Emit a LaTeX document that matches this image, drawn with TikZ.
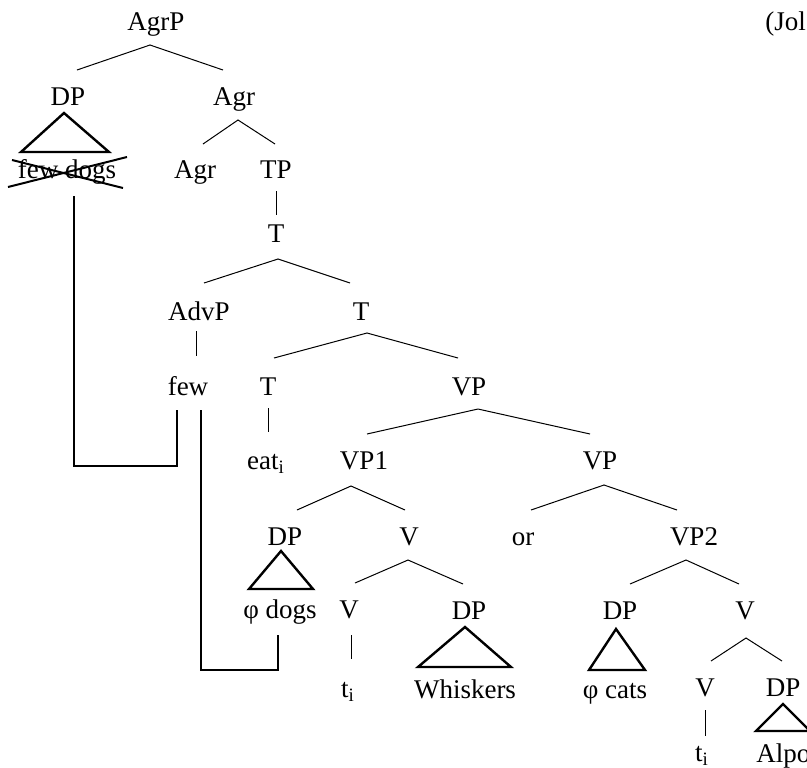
\documentclass[tikz,border=0pt]{standalone}
\usepackage{fontspec}
\setmainfont{Liberation Serif}
\usepackage{tikz}
\usetikzlibrary{calc}

\begin{document}
\begin{tikzpicture}[x=0.5pt, y=-0.5pt,
    lbl/.style={anchor=base, inner sep=0pt, font=\fontsize{13.5}{16}\selectfont},
    branch/.style={line width=0.5pt},
    roof/.style={line width=1.2pt, line join=miter},
    link/.style={line width=1pt}]
  \useasboundingbox (0,0) rectangle (807,767);
  \clip (0,0) rectangle (807,767);
  % Labels
  \node[lbl] (agrp) at (156,30) {AgrP};
  \node[lbl, anchor=base west] (src) at (765,30) {(Jol};
  \node[lbl] (dp1) at (68,105) {DP};
  \node[lbl] (agr1) at (234,105) {Agr};
  \node[lbl] (fewdogs) at (67,178) {few dogs};
  \node[lbl] (agr2) at (195,178) {Agr};
  \node[lbl] (tp) at (276,178) {TP};
  \node[lbl] (t1) at (276,242) {T};
  \node[lbl] (advp) at (199,320) {AdvP};
  \node[lbl] (t2) at (361,320) {T};
  \node[lbl] (few) at (188,395) {few};
  \node[lbl] (t3) at (268,395) {T};
  \node[lbl] (vp) at (469,395) {VP};
  \node[lbl] (eat) at (266,469) {eat\textsubscript{i}};
  \node[lbl] (vp1) at (364,469) {VP1};
  \node[lbl] (vpb) at (600,469) {VP};
  \node[lbl] (dp2) at (285,545) {DP};
  \node[lbl] (v1) at (409,545) {V};
  \node[lbl] (orn) at (523,545) {or};
  \node[lbl] (vp2) at (694,545) {VP2};
  \node[lbl] (phidogs) at (280,618) {φ dogs};
  \node[lbl] (v2) at (349,618) {V};
  \node[lbl] (dp3) at (469,619) {DP};
  \node[lbl] (dp4) at (620,619) {DP};
  \node[lbl] (v3) at (745,619) {V};
  \node[lbl] (ti1) at (348,697) {t\textsubscript{i}};
  \node[lbl] (whisk) at (465,698) {Whiskers};
  \node[lbl] (phicats) at (615,698) {φ cats};
  \node[lbl] (v4) at (705,696) {V};
  \node[lbl] (dp5) at (783,696) {DP};
  \node[lbl] (ti2) at (702,761) {t\textsubscript{i}};
  \node[lbl, anchor=base west] (alpo) at (756,762) {Alpo};
  % Branches
  \draw[branch] ($(dp1.base)+(9,-35)$) -- ($(agrp.base)+(-6,15)$) -- ($(agr1.base)+(-11,-35)$);
  \draw[branch] ($(agr2.base)+(8,-34)$) -- ($(agr1.base)+(4,15)$) -- ($(tp.base)+(-1,-34)$);
  \draw[branch] ($(tp.base)+(0,13)$) -- ($(t1.base)+(0,-27)$);
  \draw[branch] ($(advp.base)+(5,-37)$) -- ($(t1.base)+(2,17)$) -- ($(t2.base)+(-11,-37)$);
  \draw[branch] ($(advp.base)+(-3,11)$) -- ($(few.base)+(8,-39)$);
  \draw[branch] ($(t3.base)+(6,-37)$) -- ($(t2.base)+(6,13)$) -- ($(vp.base)+(-11,-37)$);
  \draw[branch] ($(t3.base)+(0,13)$) -- ($(eat.base)+(2,-37)$);
  \draw[branch] ($(vp1.base)+(3,-35)$) -- ($(vp.base)+(9,14)$) -- ($(vpb.base)+(-10,-35)$);
  \draw[branch] ($(dp2.base)+(12,-35)$) -- ($(vp1.base)+(-13,17)$) -- ($(v1.base)+(-4,-35)$);
  \draw[branch] ($(orn.base)+(8,-35)$) -- ($(vpb.base)+(4,16)$) -- ($(vp2.base)+(-17,-35)$);
  \draw[branch] ($(v2.base)+(6,-35)$) -- ($(v1.base)+(-1,15)$) -- ($(dp3.base)+(-6,-35)$);
  \draw[branch] ($(dp4.base)+(10,-35)$) -- ($(vp2.base)+(-8,15)$) -- ($(v3.base)+(-6,-35)$);
  \draw[branch] ($(v2.base)+(2,17)$) -- ($(ti1.base)+(3,-38)$);
  \draw[branch] ($(v4.base)+(6,-35)$) -- ($(v3.base)+(1,19)$) -- ($(dp5.base)+(-1,-35)$);
  \draw[branch] ($(v4.base)+(0,14)$) -- ($(ti2.base)+(3,-25)$);
  % Roofs
  \draw[roof] ($(dp1.base)+(-47,47)$) -- ($(dp1.base)+(-4,8)$) -- ($(dp1.base)+(41,47)$) -- cycle;
  \draw[roof] ($(dp2.base)+(-36,44)$) -- ($(dp2.base)+(-4,6)$) -- ($(dp2.base)+(28,44)$) -- cycle;
  \draw[roof] ($(dp3.base)+(-51,48)$) -- ($(dp3.base)+(-4,8)$) -- ($(dp3.base)+(42,48)$) -- cycle;
  \draw[roof] ($(dp4.base)+(-31,51)$) -- ($(dp4.base)+(-4,10)$) -- ($(dp4.base)+(25,51)$) -- cycle;
  \draw[roof] ($(dp5.base)+(-27,35)$) -- ($(dp5.base)+(0,8)$) -- ($(dp5.base)+(27,35)$) -- cycle;
  % Deleted copy
  \draw[link] ($(fewdogs.base)+(-59,9)$) -- ($(fewdogs.base)+(60,-21)$);
  \draw[link] ($(fewdogs.base)+(-55,-18)$) -- ($(fewdogs.base)+(56,10)$);
  % Links
  \draw[link] ($(fewdogs.base)+(7,18)$) |- ($(few.base)+(-11,71)$) -- ($(few.base)+(-11,15)$);
  \draw[link] ($(few.base)+(13,15)$) |- ($(phidogs.base)+(-2,52)$) -- ($(phidogs.base)+(-2,17)$);
\end{tikzpicture}
\end{document}
